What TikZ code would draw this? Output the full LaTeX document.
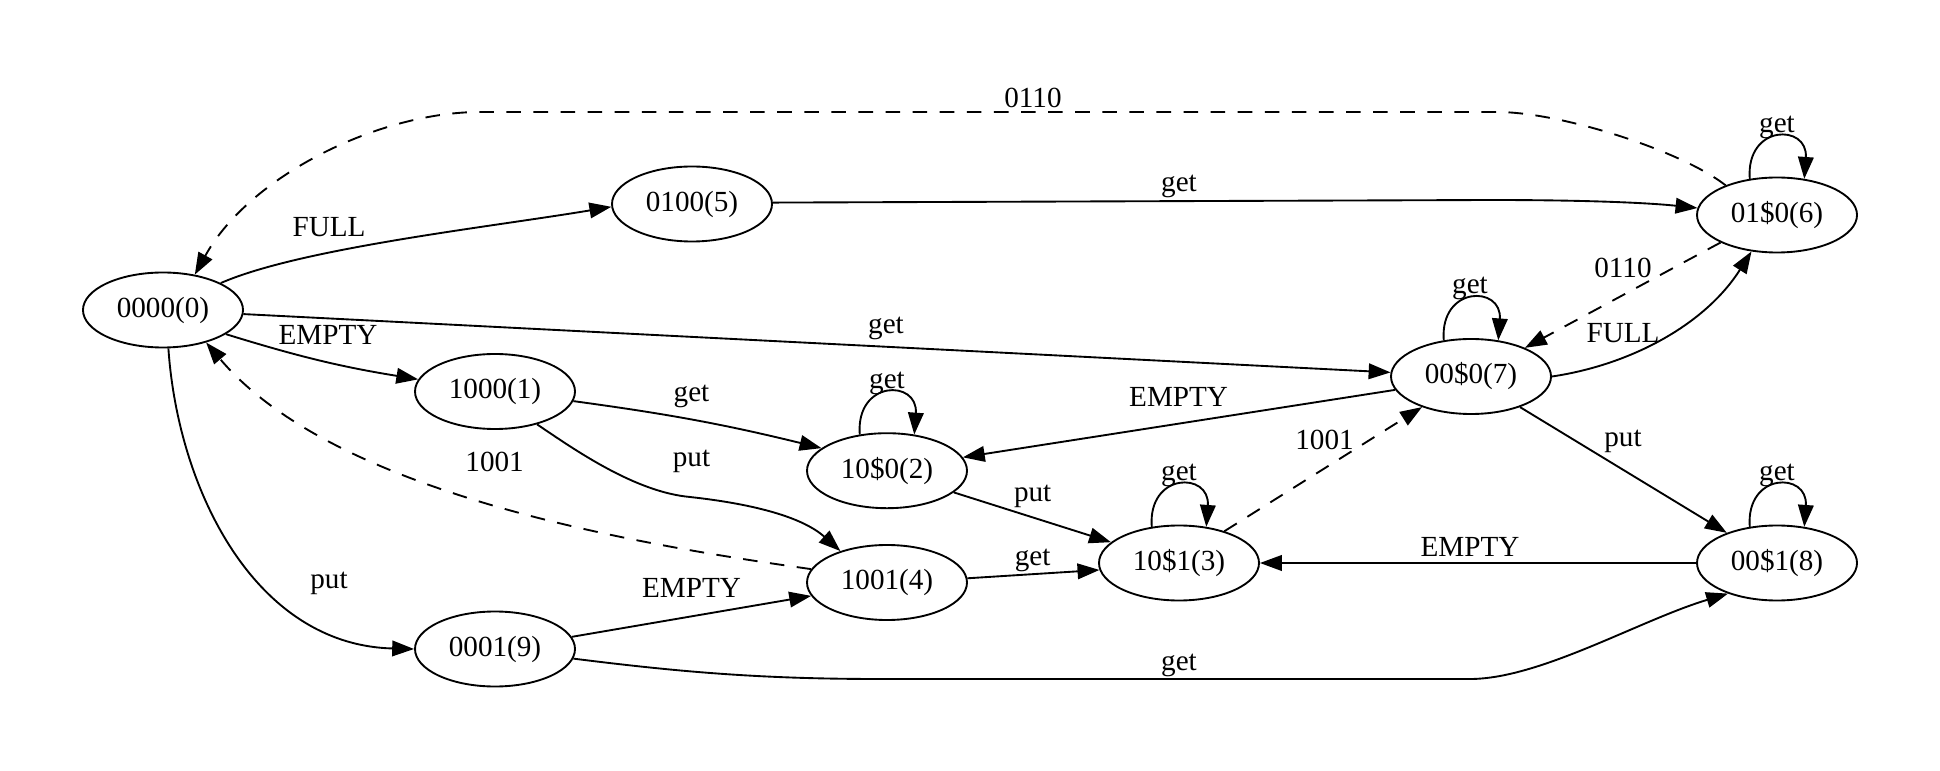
\documentclass[tikz,border=0pt]{standalone}
\usepackage{fontspec}
\setmainfont{Liberation Serif}
\usetikzlibrary{shapes.geometric,arrows.meta}
\begin{document}
\begin{tikzpicture}[x=0.48pt,y=-0.48pt,
  state/.style={draw, ellipse, line width=0.9pt, minimum width=76.8pt, minimum height=36pt, inner sep=0pt, font=\fontsize{14}{16}\selectfont},
  lbl/.style={inner sep=0pt, font=\fontsize{14}{16}\selectfont},
  edge/.style={draw, line width=0.9pt, -{Triangle[length=10.5pt,width=7.5pt]}},
  dedge/.style={edge, dash pattern=on 7pt off 6pt},
  loopedge/.style={edge}
]
\useasboundingbox (0,0) rectangle (1940,771);

% states
\node[state] (n0) at (163,310) {0000(0)};
\node[state] (n5) at (692,204) {0100(5)};
\node[state] (n6) at (1777,215) {01\$0(6)};
\node[state] (n7) at (1471,376.5) {00\$0(7)};
\node[state] (n1) at (495,391.5) {1000(1)};
\node[state] (n2) at (887,470.7) {10\$0(2)};
\node[state] (n3) at (1179,563) {10\$1(3)};
\node[state] (n4) at (887,582.5) {1001(4)};
\node[state] (n8) at (1777,563) {00\$1(8)};
\node[state] (n9) at (495,649) {0001(9)};

% edges
\draw[edge] (n0.25) .. controls (301,248) and (491,227) .. (n5.182);
\draw[edge] (n0) -- (n7);
\draw[edge] (n0.-21) to[bend right=4] (n1.171);
\draw[edge] (n0.-82) .. controls (178,490) and (255,645) .. (n9.180);
\draw[dedge] (n4.170) .. controls (640,545) and (335,495) .. (n0.-37);
\draw[dedge] (n6.150) .. controls (1680,150) and (1560,112) .. (1497,112) -- (480,112) .. controls (380,112) and (250,175) .. (n0.48);
\draw[edge] (n5.1) -- (1490,200) .. controls (1590,200) and (1650,203) .. (n6.175);
\draw[loopedge] (n6.127) .. controls +(-4,-55) and +(4,-55) .. (n6.53);
\draw[dedge] (n6.206) -- (n7.28);
\draw[edge] (n7.0) .. controls (1630,365) and (1705,325) .. (n6.-125);
\draw[loopedge] (n7.127) .. controls +(-4,-55) and +(4,-55) .. (n7.53);
\draw[edge] (n7.190) -- (n2.10);
\draw[edge] (n7.-32) -- (n8.149);
\draw[dedge] (n3.35) -- (n7.212);
\draw[edge] (n8) -- (n3);
\draw[loopedge] (n8.127) .. controls +(-4,-55) and +(4,-55) .. (n8.53);
\draw[loopedge] (n3.127) .. controls +(-4,-55) and +(4,-55) .. (n3.53);
\draw[loopedge] (n2.127) .. controls +(-4,-55) and +(4,-55) .. (n2.53);
\draw[edge] (n1.-7.5) to[bend left=3] (n2.161);
\draw[edge] (n1.-38) .. controls (575,450) and (635,492) .. (690,497) .. controls (745,503) and (800,515) .. (n4.146);
\draw[edge] (n2.-18) -- (n3.163.5);
\draw[edge] (n4.3) -- (n3.185);
\draw[edge] (n9.9) -- (n4.190.6);
\draw[edge] (n9.-7) .. controls (680,672) and (760,679) .. (880,679) -- (1470,679) .. controls (1540,679) and (1640,620) .. (n8.212);

% labels
\node[lbl] (l1) at (329,227) {FULL};
\node[lbl] (l2) at (886,328) {get};
\node[lbl] (l3) at (328,335) {EMPTY};
\node[lbl] (l4) at (329,583) {put};
\node[lbl] (l5) at (494.6,461.7) {1001};
\node[lbl] (l6) at (1033,98) {0110};
\node[lbl] (l7) at (1179,186.7) {get};
\node[lbl] (l8) at (1777,127) {get};
\node[lbl] (l9) at (1623,268) {0110};
\node[lbl] (l10) at (1623,333) {FULL};
\node[lbl] (l11) at (1470,288) {get};
\node[lbl] (l12) at (1178.6,397) {EMPTY};
\node[lbl] (l13) at (1623,441.7) {put};
\node[lbl] (l14) at (1324.5,440) {1001};
\node[lbl] (l15) at (1470,546.7) {EMPTY};
\node[lbl] (l16) at (1777,475) {get};
\node[lbl] (l17) at (1179,475) {get};
\node[lbl] (l18) at (887,383) {get};
\node[lbl] (l19) at (691.5,396.7) {get};
\node[lbl] (l20) at (691.5,461.7) {put};
\node[lbl] (l21) at (1032.7,496.7) {put};
\node[lbl] (l22) at (1032.7,560) {get};
\node[lbl] (l23) at (691.5,588) {EMPTY};
\node[lbl] (l24) at (1179,665) {get};
\end{tikzpicture}
\end{document}
